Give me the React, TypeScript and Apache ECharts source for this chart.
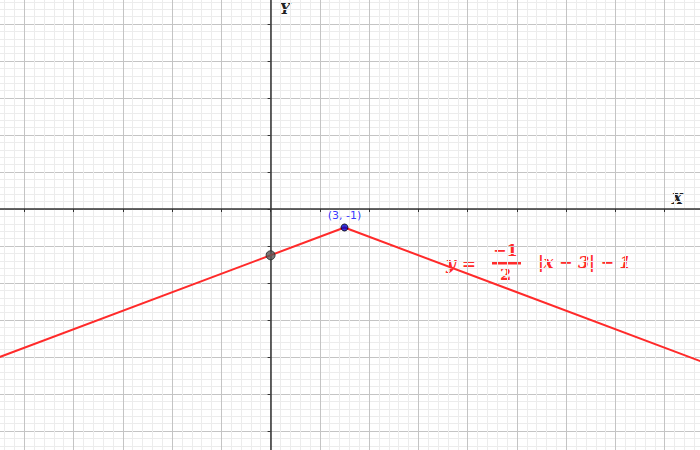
import React, { useEffect, useRef } from 'react';
import * as echarts from 'echarts';

const xTicks = [-12, -10, -8, -6, -4, -2, 0, 2, 4, 6, 8, 10, 12, 14, 16, 18];
const yTicks = [-14, -12, -10, -8, -6, -4, -2, 0, 2, 4, 6, 8, 10, 12];
const lineXs = [-12, 3, 18];
const lineYs = [-8.5, -1, -8.5];
const pointA = [0, -2.5];
const vertex = [3, -1];

const RED = '#ff2a2a';

function eqText(left: number, top: number, text: string, size: number, italic: boolean) {
  return {
    type: 'text',
    left,
    top,
    style: {
      text,
      fill: RED,
      fontFamily: 'DejaVu Serif',
      fontWeight: 'bold',
      fontStyle: italic ? 'italic' : 'normal',
      fontSize: size,
    },
  };
}

export default function App() {
  const ref = useRef<HTMLDivElement | null>(null);

  useEffect(() => {
    document.body.style.margin = '0';
    if (!ref.current) return;
    const chart = echarts.init(ref.current, undefined, { renderer: 'svg' });
    const grid = '#c4c4c4';
    const mono = { fontFamily: 'DejaVu Sans, sans-serif', fontSize: 11, color: '#222' };
    chart.setOption({
      animation: false,
      backgroundColor: '#ffffff',
      grid: { left: -25, right: -14, top: -13, bottom: -18, containLabel: false, outerBoundsMode: 'none' },
      xAxis: {
        type: 'value',
        min: xTicks[0],
        max: xTicks[xTicks.length - 1],
        interval: 2,
        axisLine: { onZero: true, lineStyle: { color: '#333', width: 1.5 }, symbol: ['none', 'arrow'], symbolSize: [6, 9] },
        axisTick: { show: true, length: 3, lineStyle: { color: '#333' } },
        axisLabel: {
          ...mono,
          margin: 6,
          formatter: (v: number) => {
            if (v === xTicks[0] || v === xTicks[xTicks.length - 1]) return '';
            if (v === 0) return '{z|0}';
            return String(v);
          },
          rich: { z: { ...mono, padding: [0, 26, 0, 0] } },
        },
        splitLine: { show: true, lineStyle: { color: grid, width: 1 } },
        minorTick: { show: false, splitNumber: 5 },
        minorSplitLine: { show: true, lineStyle: { color: '#ececec', width: 1 } },
      },
      yAxis: {
        type: 'value',
        min: yTicks[0],
        max: yTicks[yTicks.length - 1],
        interval: 2,
        axisLine: { onZero: true, lineStyle: { color: '#333', width: 1.5 }, symbol: ['none', 'arrow'], symbolSize: [6, 9] },
        axisTick: { show: true, length: 3, lineStyle: { color: '#333' } },
        axisLabel: {
          ...mono,
          margin: 6,
          formatter: (v: number) =>
            v === 0 || v === yTicks[0] || v === yTicks[yTicks.length - 1] ? '' : String(v),
        },
        splitLine: { show: true, lineStyle: { color: grid, width: 1 } },
        minorTick: { show: false, splitNumber: 5 },
        minorSplitLine: { show: true, lineStyle: { color: '#ececec', width: 1 } },
      },
      series: [
        {
          type: 'line',
          data: lineXs.map((x, i) => [x, lineYs[i]]),
          showSymbol: false,
          lineStyle: { color: RED, width: 2 },
          z: 3,
        },
        {
          type: 'scatter',
          data: [pointA],
          symbolSize: 9,
          itemStyle: { color: '#555', borderColor: '#222', borderWidth: 1 },
          z: 4,
        },
        {
          type: 'scatter',
          data: [vertex],
          symbolSize: 7,
          itemStyle: { color: '#0000cc', borderColor: '#000', borderWidth: 1 },
          label: {
            show: true,
            position: 'top',
            distance: 3,
            formatter: '(3, -1)',
            color: '#0000ff',
            fontFamily: 'DejaVu Sans, sans-serif',
            fontSize: 11,
          },
          z: 4,
        },
      ],
      graphic: [
        { type: 'text', left: 672, top: 192, style: { text: 'X', fontFamily: 'DejaVu Serif', fontWeight: 'bold', fontStyle: 'italic', fontSize: 14, fill: '#222' } },
        { type: 'text', left: 280, top: 2, style: { text: 'Y', fontFamily: 'DejaVu Serif', fontWeight: 'bold', fontStyle: 'italic', fontSize: 14, fill: '#222' } },
        eqText(446, 254, 'y =', 17, true),
        eqText(493, 242, '\u22121', 16, false),
        { type: 'rect', shape: { x: 492, y: 262, width: 29, height: 2.5 }, style: { fill: RED } },
        eqText(500, 266, '2', 16, false),
        eqText(538, 254, '|x \u2212 3| \u2212 1', 16, true),
      ],
    });
    return () => chart.dispose();
  }, []);

  return <div ref={ref} style={{ width: 700, height: 450 }} />;
}
